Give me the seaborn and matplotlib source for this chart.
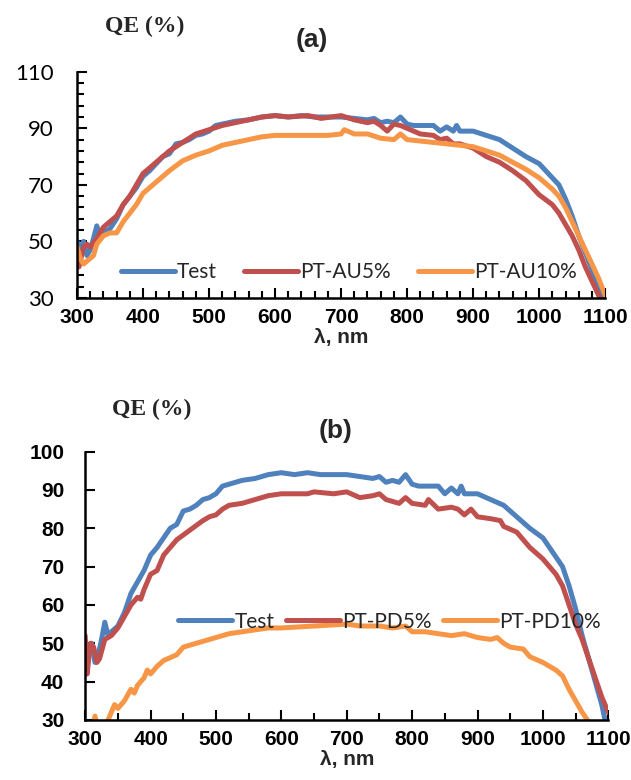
import matplotlib
matplotlib.use('Agg')

import numpy as np
import pandas as pd
import seaborn as sns
import matplotlib.pyplot as plt
from matplotlib.ticker import MultipleLocator, FixedLocator

# ==========================================
# DATA
# ==========================================
WL_TEST = [300, 305, 310, 315, 320, 325, 330, 335, 340, 350, 360, 370, 380, 390, 400,
           410, 420, 430, 440, 450, 460, 470, 480, 490, 500, 510, 520, 540, 560, 580,
           600, 620, 640, 660, 680, 700, 720, 740, 750, 760, 770, 780, 790, 800, 810,
           820, 840, 850, 860, 870, 875, 880, 900, 920, 940, 960, 980, 1000, 1010, 1020,
           1030, 1040, 1050, 1060, 1070, 1080, 1090, 1095]
QE_TEST = [50, 47, 50, 45, 47, 51, 55.5, 52, 53, 54.5, 58, 63, 66, 69, 73,
           75, 77.5, 80, 81, 84.5, 85, 86, 87.5, 88, 89, 91, 91.5, 92.5, 93, 94,
           94.5, 94, 94.5, 94, 94, 94, 93.5, 93, 93.5, 92, 92.5, 92, 94, 91.5, 91,
           91, 91, 89, 90.5, 89, 91, 89, 89, 87.5, 86, 83, 80, 77.5, 75, 72.5,
           70, 65, 59, 52, 46, 40, 34, 30]

# panel (a)
WL_AU5 = [300, 303, 310, 315, 320, 330, 340, 350, 360, 370, 380, 390, 400, 410, 420,
          440, 460, 480, 500, 520, 540, 560, 580, 600, 620, 650, 670, 700, 720, 740,
          750, 760, 770, 780, 790, 800, 820, 840, 850, 860, 870, 880, 900, 920, 940,
          960, 980, 1000, 1020, 1030, 1040, 1050, 1060, 1070, 1080, 1090, 1095]
QE_AU5 = [43, 41, 48, 49, 48, 51, 55, 57, 59, 63, 66, 70, 74, 76, 78,
          82, 85, 88, 89.5, 91, 92, 93, 94, 94.5, 94, 94.5, 93.5, 94.5, 93, 92,
          92.5, 91, 89, 91.5, 91, 90, 88, 87.5, 86, 86.5, 84.5, 84.5, 83, 80, 78,
          75, 71.5, 66.5, 63, 60, 56, 52, 47, 41, 36, 31, 29]

WL_AU10 = [300, 305, 310, 320, 325, 330, 340, 350, 360, 370, 380, 390, 400, 420, 440,
           460, 480, 500, 520, 540, 560, 580, 600, 650, 680, 700, 705, 720, 740, 760,
           780, 790, 800, 820, 840, 860, 880, 900, 920, 940, 960, 980, 1000, 1020, 1030,
           1040, 1050, 1060, 1070, 1080, 1090, 1100]
QE_AU10 = [48, 44, 42, 44, 45, 49, 52, 53, 53, 57, 60, 63, 67, 71, 75,
           78.5, 80.5, 82, 84, 85, 86, 87, 87.5, 87.5, 87.5, 88, 89.5, 88, 88, 86.5,
           86, 88, 86, 85.5, 85, 84.5, 84, 83.5, 82, 80.5, 78, 75.5, 72.5, 68.5, 66,
           62, 57, 52, 47, 42, 37, 31]

# panel (b)
WL_PD5 = [300, 303, 308, 313, 318, 322, 330, 340, 350, 360, 370, 380, 385, 390, 400,
          410, 420, 440, 460, 480, 490, 500, 510, 520, 540, 560, 580, 600, 640, 650,
          680, 700, 720, 740, 750, 760, 780, 790, 800, 820, 825, 840, 860, 870, 880,
          890, 900, 920, 935, 940, 960, 980, 1000, 1020, 1030, 1040, 1050, 1060, 1070,
          1080, 1090, 1100]
QE_PD5 = [52, 42, 50, 49, 45, 46, 51, 52, 54, 57, 60, 62, 61.5, 64, 68,
          69, 73, 77, 79.5, 82, 83, 83.5, 85, 86, 86.5, 87.5, 88.5, 89, 89, 89.5,
          89, 89.5, 88, 88.5, 89, 87.5, 86.5, 88, 86.5, 86, 87.5, 85, 85.5, 85, 83.5,
          85, 83, 82.5, 82, 80.5, 79, 75, 72, 68, 65, 60, 55, 51, 46,
          41, 36, 32]

WL_PD10 = [300, 310, 315, 320, 330, 335, 340, 345, 350, 360, 370, 375, 380, 390, 395,
           400, 410, 420, 440, 450, 460, 480, 500, 520, 540, 560, 580, 600, 650, 700,
           720, 750, 770, 790, 800, 820, 840, 860, 880, 900, 920, 930, 940, 950, 970,
           980, 1000, 1020, 1030, 1040, 1050, 1060, 1068, 1075]
QE_PD10 = [22, 27, 31, 27, 27, 30, 32, 34, 33, 35, 38, 37, 39, 41, 43,
           42, 44, 45.5, 47, 49, 49.5, 50.5, 51.5, 52.5, 53, 53.5, 54, 54, 54.5, 55,
           54.5, 54.5, 54, 54.5, 53, 53, 52.5, 52, 52.5, 51.5, 51, 51.5, 50, 49, 48.5,
           46.5, 45, 43, 41.5, 38, 35, 32, 30, 28]

PALETTE_A = {'Test': '#4F81BD', 'PT-AU5%': '#C0504D', 'PT-AU10%': '#F79646'}
PALETTE_B = {'Test': '#4F81BD', 'PT-PD5%': '#C0504D', 'PT-PD10%': '#F79646'}

YTICKS_A = [30, 50, 70, 90, 110]
YTICKS_B = [30, 40, 50, 60, 70, 80, 90, 100]

BOLD_FONT = 'Liberation Sans'


def to_long(series):
    frames = [pd.DataFrame({'wl': wl, 'qe': qe, 'sample': name}) for name, wl, qe in series]
    return pd.concat(frames, ignore_index=True)


df_a = to_long([('Test', WL_TEST, QE_TEST), ('PT-AU5%', WL_AU5, QE_AU5),
                ('PT-AU10%', WL_AU10, QE_AU10)])
df_b = to_long([('Test', WL_TEST, QE_TEST), ('PT-PD5%', WL_PD5, QE_PD5),
                ('PT-PD10%', WL_PD10, QE_PD10)])

# ==========================================
# FIGURE
# ==========================================
sns.set_style('ticks')
plt.rcParams['font.family'] = ['Lato', 'DejaVu Sans']

fig = plt.figure(figsize=(6.31, 7.8), dpi=100)
ax_a = fig.add_axes([0.122, 0.618, 0.837, 0.290])
ax_b = fig.add_axes([0.135, 0.077, 0.829, 0.344])


def style_axis(ax, df, palette, yticks, yminor, xminor, ybold, ypad,
               title, title_pos, qe_pos, legend_pos, colspace):
    sns.lineplot(data=df, x='wl', y='qe', hue='sample', palette=palette,
                 hue_order=list(palette.keys()), linewidth=3.6, sort=False,
                 estimator=None, ax=ax)
    ax.set_xlim(300, 1100)
    ax.set_ylim(yticks[0], yticks[-1])
    ax.xaxis.set_major_locator(MultipleLocator(100))
    ax.xaxis.set_minor_locator(MultipleLocator(xminor))
    ax.yaxis.set_major_locator(FixedLocator(yticks))
    if yminor:
        ax.yaxis.set_minor_locator(FixedLocator(np.arange(yticks[0], yticks[-1] + 1, yminor)))
    sns.despine(ax=ax)
    for sp in ('left', 'bottom'):
        ax.spines[sp].set_linewidth(1.8)
        ax.spines[sp].set_color('black')
    ax.tick_params(which='both', direction='in', width=1.5, colors='black')
    ax.tick_params(which='major', length=7)
    ax.tick_params(which='minor', length=5)
    ax.tick_params(axis='x', pad=7)
    ax.tick_params(axis='y', pad=ypad)
    for lab in ax.get_xticklabels():
        lab.set_fontweight('bold')
        lab.set_family(BOLD_FONT)
        lab.set_fontsize(15)
    for lab in ax.get_yticklabels():
        if ybold:
            lab.set_fontweight('bold')
            lab.set_family(BOLD_FONT)
            lab.set_fontsize(15)
        else:
            lab.set_fontsize(16)
    ax.set_xlabel('λ, nm', fontsize=15, fontweight='bold', family=BOLD_FONT, labelpad=1)
    ax.set_ylabel('')
    ax.text(title_pos[0], title_pos[1], title, transform=ax.transAxes, fontsize=19,
            fontweight='bold', family=BOLD_FONT, ha='center', va='center')
    ax.text(qe_pos[0], qe_pos[1], 'QE (%)', transform=ax.transAxes, fontsize=17,
            fontweight='bold', family='Liberation Serif', va='center')
    ax.legend(loc='center', bbox_to_anchor=legend_pos, ncol=3, frameon=False,
              fontsize=15, handlelength=2.6, handletextpad=0.1, columnspacing=colspace)


style_axis(ax_a, df_a, PALETTE_A, YTICKS_A, 4, 20, False, 17,
           '(a)', (0.445, 1.14), (0.053, 1.20), (0.515, 0.115), 1.3)
style_axis(ax_b, df_b, PALETTE_B, YTICKS_B, None, 50, True, 15,
           '(b)', (0.478, 1.075), (0.052, 1.157), (0.582, 0.366), 0.55)

fig.savefig('out.png', dpi=100)
